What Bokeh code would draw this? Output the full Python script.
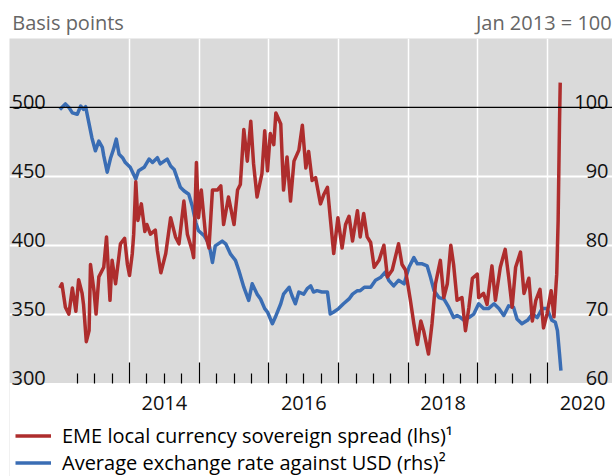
from bokeh.plotting import figure
from bokeh.models import (Range1d, FixedTicker, Span, Legend, LinearAxis,
                          LegendItem, LabelSet, ColumnDataSource, BoxAnnotation)
from bokeh.core.properties import value
from bokeh.embed import file_html
from bokeh.resources import INLINE

# ---------------- data ----------------
red_t = [2013.00, 2013.03, 2013.08, 2013.13, 2013.18, 2013.23, 2013.27, 2013.32,
         2013.34, 2013.38, 2013.42, 2013.44, 2013.49, 2013.52, 2013.56, 2013.63,
         2013.67, 2013.72, 2013.75, 2013.80, 2013.87, 2013.93, 2013.97, 2014.00,
         2014.04, 2014.06, 2014.09, 2014.12, 2014.17, 2014.22, 2014.25, 2014.30,
         2014.37, 2014.40, 2014.45, 2014.52, 2014.59, 2014.66, 2014.71, 2014.78,
         2014.83, 2014.90, 2014.92, 2014.96, 2014.99, 2015.03, 2015.09, 2015.14,
         2015.19, 2015.26, 2015.31, 2015.35, 2015.42, 2015.50, 2015.55, 2015.59,
         2015.64, 2015.69, 2015.74, 2015.78, 2015.83, 2015.90, 2015.94, 2015.98,
         2016.02, 2016.07, 2016.10, 2016.17, 2016.21, 2016.26, 2016.31, 2016.36,
         2016.43, 2016.48, 2016.53, 2016.57, 2016.62, 2016.67, 2016.74, 2016.79,
         2016.84, 2016.88, 2016.93, 2016.99, 2017.05, 2017.10, 2017.15, 2017.20,
         2017.27, 2017.31, 2017.36, 2017.41, 2017.46, 2017.51, 2017.58, 2017.65,
         2017.70, 2017.77, 2017.86, 2017.91, 2017.96, 2018.03, 2018.08, 2018.13,
         2018.18, 2018.22, 2018.29, 2018.34, 2018.39, 2018.46, 2018.51, 2018.56,
         2018.61, 2018.65, 2018.70, 2018.77, 2018.82, 2018.87, 2018.92, 2018.99,
         2019.01, 2019.08, 2019.13, 2019.20, 2019.25, 2019.32, 2019.39, 2019.44,
         2019.49, 2019.54, 2019.61, 2019.66, 2019.73, 2019.78, 2019.83, 2019.89,
         2019.94, 2019.99, 2020.05, 2020.09, 2020.13, 2020.15, 2020.17, 2020.18]
red_v = [369, 372, 355, 350, 369, 352, 375, 365,
         357, 330, 338, 386, 367, 350, 377, 384,
         406, 360, 389, 372, 401, 405, 386, 378,
         394, 408, 446, 418, 430, 410, 415, 408,
         411, 396, 380, 394, 420, 406, 401, 432,
         408, 396, 391, 460, 420, 440, 408, 398,
         440, 440, 443, 415, 435, 415, 440, 444,
         484, 461, 490, 459, 435, 452, 483, 454,
         481, 473, 496, 488, 440, 464, 432, 461,
         469, 487, 456, 468, 447, 449, 430, 437,
         442, 420, 394, 420, 398, 415, 421, 403,
         425, 406, 423, 406, 402, 384, 389, 400,
         377, 382, 401, 386, 382, 360, 343, 328,
         345, 338, 321, 343, 372, 389, 362, 372,
         400, 386, 360, 362, 338, 355, 376, 379,
         362, 365, 357, 385, 360, 384, 397, 377,
         355, 384, 395, 365, 376, 345, 360, 368,
         340, 350, 367, 348, 379, 418, 490, 518]

blue_t = [2013.00, 2013.08, 2013.13, 2013.18, 2013.25, 2013.30, 2013.34, 2013.37,
          2013.42, 2013.46, 2013.51, 2013.56, 2013.61, 2013.63, 2013.68, 2013.73,
          2013.77, 2013.81, 2013.85, 2013.90, 2013.94, 2014.01, 2014.09, 2014.13,
          2014.21, 2014.28, 2014.33, 2014.40, 2014.44, 2014.54, 2014.59, 2014.64,
          2014.73, 2014.78, 2014.85, 2014.90, 2014.95, 2014.99, 2015.07, 2015.14,
          2015.19, 2015.23, 2015.33, 2015.38, 2015.45, 2015.52, 2015.57, 2015.64,
          2015.71, 2015.76, 2015.83, 2015.88, 2015.94, 2015.98, 2016.05, 2016.09,
          2016.17, 2016.21, 2016.29, 2016.33, 2016.38, 2016.43, 2016.50, 2016.55,
          2016.60, 2016.64, 2016.69, 2016.76, 2016.84, 2016.88, 2016.93, 2017.00,
          2017.07, 2017.15, 2017.20, 2017.27, 2017.31, 2017.37, 2017.46, 2017.53,
          2017.60, 2017.67, 2017.72, 2017.79, 2017.86, 2017.94, 2018.01, 2018.08,
          2018.13, 2018.20, 2018.27, 2018.32, 2018.37, 2018.44, 2018.51, 2018.58,
          2018.65, 2018.70, 2018.75, 2018.80, 2018.87, 2018.94, 2019.01, 2019.08,
          2019.15, 2019.23, 2019.30, 2019.37, 2019.44, 2019.51, 2019.56, 2019.63,
          2019.71, 2019.78, 2019.85, 2019.92, 2019.99, 2020.06, 2020.11, 2020.14,
          2020.17, 2020.19]
blue_v = [99.7, 100.5, 100.0, 99.2, 99.0, 100.2, 99.7, 100.1,
          97.6, 95.6, 93.7, 95.1, 94.2, 93.0, 90.6, 92.7,
          93.9, 95.4, 93.2, 92.7, 92.0, 91.3, 89.6, 90.8,
          91.3, 92.5, 92.0, 92.7, 91.8, 92.5, 91.5, 91.0,
          88.4, 87.9, 87.4, 85.7, 83.3, 82.1, 81.4, 80.2,
          77.5, 79.9, 80.6, 80.2, 78.7, 77.8, 76.3, 73.9,
          72.0, 74.4, 72.9, 72.2, 70.8, 70.3, 68.6, 69.5,
          71.5, 72.9, 73.9, 72.7, 71.5, 73.2, 72.9, 73.7,
          74.1, 73.2, 73.4, 73.2, 73.2, 70.0, 70.3, 70.8,
          71.5, 72.2, 72.9, 73.4, 73.4, 73.9, 73.9, 74.9,
          75.3, 76.1, 74.9, 74.1, 74.9, 74.4, 76.8, 78.2,
          77.3, 77.3, 77.0, 75.3, 73.4, 72.4, 72.2, 71.0,
          69.5, 69.8, 69.5, 69.1, 69.5, 70.0, 71.5, 70.8,
          70.8, 71.5, 70.8, 69.8, 71.2, 71.0, 69.3, 68.6,
          69.1, 70.0, 69.5, 70.8, 70.8, 69.1, 68.8, 67.6,
          64.2, 61.8]

lhs_ticks = [300, 350, 400, 450, 500]
rhs_ticks = [60, 70, 80, 90, 100]
lhs_labels = ["300", "350", "400", "450", "500"]
rhs_labels = ["60", "70", "80", "90", "100"]
year_ticks = [2014, 2015, 2016, 2017, 2018, 2019, 2020]
year_label_pos = [2014.5, 2016.5, 2018.5, 2020.5]
year_labels = ["2014", "2016", "2018", "2020"]
red_name = "EME local currency sovereign spread (lhs)\u00b9"
blue_name = "Average exchange rate against USD (rhs)\u00b2"
lhs_unit = "Basis points"
rhs_unit = "Jan 2013 = 100"

# ---------------- styling ----------------
FONT = "Open Sans"
RED = "#ae2d2d"
BLUE = "#3a6db4"
X_START, X_END = 2012.278, 2020.93
PX_PER_YEAR = 69.7
Y_START, Y_END = 300, 550            # grey plotting area (lhs units)
Y_BOTTOM = 232.15                    # frame continues down to hold legend
RHS_BOTTOM, RHS_TOP = 46.43, 110     # rhs: 60..100 <-> 300..500
# header texts are drawn as labels of an 'above' axis: centre positions in x
HEADER_POS = [X_START + 58.6 / PX_PER_YEAR, X_END - 68.7 / PX_PER_YEAR]

p = figure(width=612, height=476, output_backend="svg", toolbar_location=None,
           x_range=Range1d(X_START, X_END), y_range=Range1d(Y_BOTTOM, Y_END),
           min_border_left=9, min_border_right=0, min_border_top=38,
           min_border_bottom=0, background_fill_color="#dadada",
           border_fill_color="white", outline_line_color=None)
p.extra_y_ranges = {"rhs": Range1d(RHS_BOTTOM, RHS_TOP)}
p.yaxis.visible = False

# white grid lines
p.xgrid.ticker = FixedTicker(ticks=year_ticks)
p.xgrid.grid_line_color = "white"
p.xgrid.grid_line_width = 1.5
p.ygrid.ticker = FixedTicker(ticks=[350, 400, 450])
p.ygrid.grid_line_color = "white"
p.ygrid.grid_line_width = 1.8

# white strip below the grey plotting area (holds year labels and legend)
p.add_layout(BoxAnnotation(bottom=Y_BOTTOM, top=Y_START, left=X_START, right=X_END,
                           fill_color="white", fill_alpha=1.0, line_alpha=0,
                           level="underlay"))

# x axis fixed at the bottom of the grey area, ticks pointing inward
minor = [y + q for y in [2013] + year_ticks[:-1] for q in (0.25, 0.5, 0.75)]
xa = p.xaxis[0]
xa.fixed_location = Y_START
xa.ticker = FixedTicker(ticks=year_ticks, minor_ticks=minor)
xa.major_tick_in = 21
xa.major_tick_out = 0
xa.minor_tick_in = 10
xa.minor_tick_out = 0
xa.major_tick_line_color = "black"
xa.minor_tick_line_color = "black"
xa.major_tick_line_width = 1.2
xa.minor_tick_line_width = 1.2
xa.axis_line_color = None
xa.major_label_text_color = None

# header: unit texts above the grey area
header = LinearAxis(ticker=FixedTicker(ticks=HEADER_POS),
                    major_label_overrides={HEADER_POS[0]: lhs_unit, HEADER_POS[1]: rhs_unit},
                    major_tick_line_color=None, minor_tick_line_color=None,
                    major_tick_out=0, major_tick_in=0, minor_tick_out=0, minor_tick_in=0,
                    axis_line_color=None, major_label_standoff=3,
                    major_label_text_font=FONT, major_label_text_font_size="20px",
                    major_label_text_color="#666666")
p.add_layout(header, "above")

p.add_layout(Span(location=500, dimension="width", line_color="black", line_width=1.3))

# series
blue_src = ColumnDataSource(dict(t=blue_t, v=blue_v))
red_src = ColumnDataSource(dict(t=red_t, v=red_v))
r_blue = p.line("t", "v", source=blue_src, line_color=BLUE, line_width=3.5,
                y_range_name="rhs", line_join="round")
r_red = p.line("t", "v", source=red_src, line_color=RED, line_width=3.5,
               line_join="round")

# value labels inside the plot
p.text(x=[X_START] * len(lhs_ticks), y=lhs_ticks, text=lhs_labels,
       x_offset=2, y_offset=-5, text_align="left", text_baseline="alphabetic",
       text_font=value(FONT), text_font_size="20px", text_color="#111111")
p.text(x=[X_END] * len(rhs_ticks), y=rhs_ticks, text=rhs_labels,
       x_offset=-4, y_offset=-5, text_align="right", text_baseline="alphabetic",
       text_font=value(FONT), text_font_size="20px", text_color="#111111",
       y_range_name="rhs")

# year labels (centred on each labelled year)
p.add_layout(LabelSet(x="x", y=Y_START, text="text",
                      source=ColumnDataSource(dict(x=year_label_pos, text=year_labels)),
                      y_offset=-27, text_align="center", text_baseline="alphabetic",
                      text_font=value(FONT), text_font_size=value("20px"),
                      text_color="#111111"))

legend = Legend(items=[LegendItem(label=red_name, renderers=[r_red]),
                       LegendItem(label=blue_name, renderers=[r_blue])],
                location=(6, 0), orientation="vertical", glyph_width=36,
                glyph_height=25, label_height=25, label_standoff=11, spacing=0,
                padding=0, margin=0, border_line_color=None,
                background_fill_alpha=0, label_text_font=FONT,
                label_text_font_size="20px", label_text_color="black")
p.add_layout(legend)

open("out.html", "w").write(file_html(p, INLINE))
